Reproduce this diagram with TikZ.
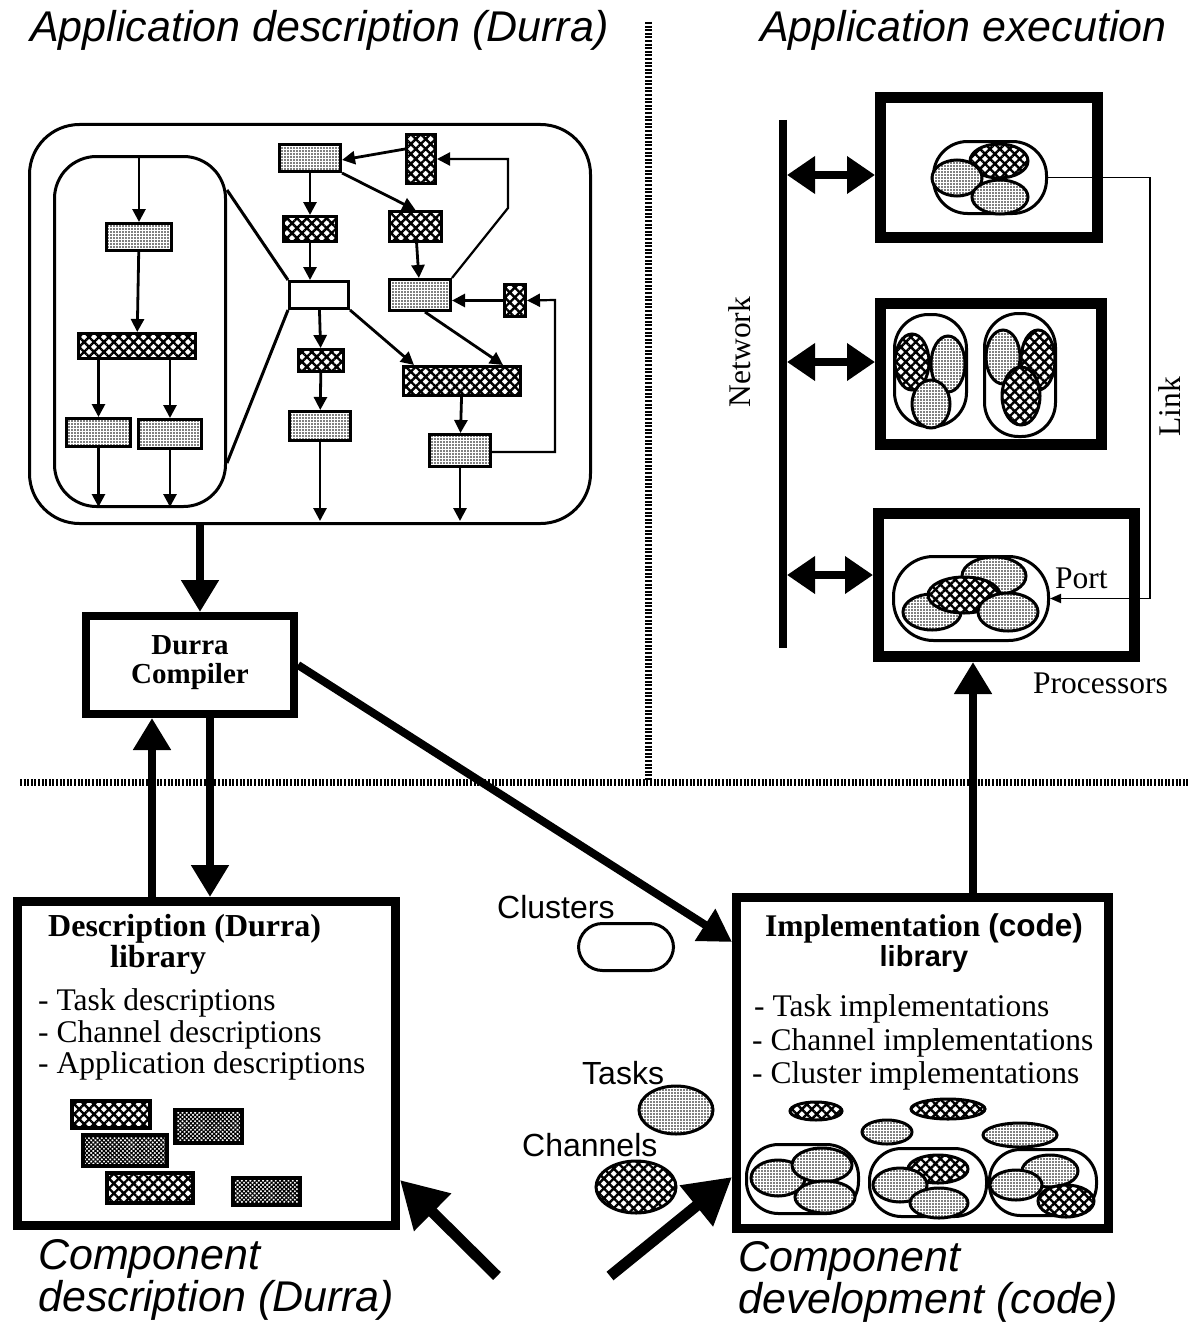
\documentclass[tikz,border=0pt]{standalone}
\usepackage{fontspec}
\setmainfont{Liberation Serif}
\setsansfont{Liberation Sans}
\usetikzlibrary{arrows.meta,patterns.meta,shapes.geometric}
\begin{document}
\begin{tikzpicture}[x=1pt,y=-1pt,
  box/.style={rectangle,inner sep=0pt,draw,line width=3pt},
  dotf/.style={preaction={fill=white},pattern={Dots[distance=3pt,radius=0.8pt]},draw,line width=3pt},
  hatf/.style={preaction={fill=white},pattern={Hatch[angle=45,distance=7pt,line width=2.4pt]},draw,line width=3pt},
  finef/.style={preaction={fill=white},pattern={Hatch[angle=45,distance=3pt,line width=1.1pt]},draw,line width=3.5pt},
  whitef/.style={fill=white,draw,line width=3pt},
  clus/.style={rectangle,inner sep=0pt,fill=white,draw,line width=3pt},
  bigbox/.style={rectangle,inner sep=0pt,draw,line width=9pt,fill=white},
  procbox/.style={rectangle,inner sep=0pt,draw,line width=11pt},
  sarr/.style={-{Triangle[length=13pt,width=13pt]},line width=2.8pt},
  bigarr/.style={-{Triangle[length=32pt,width=36pt]},line width=8pt},
  dblarr/.style={{Triangle[length=28pt,width=36pt]}-{Triangle[length=28pt,width=36pt]},line width=8pt},
  hugearr/.style={-{Triangle[length=46pt,width=50pt]},line width=11pt},
  linkarr/.style={-{Triangle[length=11pt,width=9pt]},line width=1.8pt},
  sepline/.style={line width=7pt,dash pattern=on 2pt off 1.6pt},
  title/.style={font=\sffamily\itshape\fontsize{43}{45}\selectfont,inner sep=0pt},
  lab/.style={font=\fontsize{31.5}{33}\selectfont,inner sep=0pt},
  blab/.style={font=\bfseries\fontsize{32}{34}\selectfont,inner sep=0pt},
  slab/.style={font=\sffamily\fontsize{32}{34}\selectfont,inner sep=0pt}
]
\useasboundingbox (0,0) rectangle (1188,1327);

% separators
\coordinate (v1) at (648,22);
\coordinate (v2) at (648,780);
\coordinate (h1) at (20,782);
\coordinate (h2) at (1188,782);
\draw[sepline] (v1) -- (v2);
\draw[sepline] (h1) -- (h2);

% titles
\node[title,anchor=base west] (t1) at (30,42) {Application description (Durra)};
\node[title,anchor=base west] (t2) at (760,42) {Application execution};

% application description graph
\node[rectangle,draw,line width=3pt,rounded corners=50pt,minimum width=561pt,minimum height=399pt,inner sep=0pt] (app) at (310,324) {};
\node[rectangle,draw,line width=3pt,rounded corners=42pt,minimum width=171pt,minimum height=350pt,inner sep=0pt] (cl) at (140,331.5) {};

\node[box,dotf,minimum width=65pt,minimum height=27pt] (b1) at (139,237) {};
\node[box,hatf,minimum width=117pt,minimum height=25pt] (b2) at (137,346) {};
\node[box,dotf,minimum width=64pt,minimum height=28pt] (b3) at (98.5,432.5) {};
\node[box,dotf,minimum width=63pt,minimum height=29pt] (b4) at (170,434) {};
\node[box,dotf,minimum width=61pt,minimum height=27pt] (bA) at (310,158) {};
\node[box,hatf,minimum width=29pt,minimum height=49pt] (bB) at (421,159) {};
\node[box,hatf,minimum width=53pt,minimum height=25pt] (bC) at (310,229) {};
\node[box,hatf,minimum width=52pt,minimum height=30pt] (bD) at (415.5,226.5) {};
\node[box,dotf,minimum width=61pt,minimum height=31pt] (bE) at (420,295) {};
\node[box,hatf,minimum width=21pt,minimum height=32pt] (bF) at (515,300.5) {};
\node[box,whitef,minimum width=59pt,minimum height=27pt] (bW) at (319,295) {};
\node[box,hatf,minimum width=45pt,minimum height=22pt] (bH) at (321,360.5) {};
\node[box,dotf,minimum width=61pt,minimum height=29pt] (bI) at (320,426) {};
\node[box,hatf,minimum width=117pt,minimum height=29pt] (bJ) at (462,381) {};
\node[box,dotf,minimum width=61pt,minimum height=32pt] (bG) at (460,450.5) {};

\coordinate (s0) at (139,158);
\coordinate (e1) at (98.5,507);
\coordinate (e2) at (170,507);
\coordinate (e3) at (320,521);
\coordinate (e4) at (460,521);
\coordinate (k1) at (508,208);
\coordinate (k2) at (508,159);
\coordinate (k3) at (555,452);
\coordinate (k4) at (555,300);

\draw[line width=3pt] ([yshift=141.5pt]cl.east) -- (bW.north west);
\draw[line width=3pt] ([yshift=-131.5pt]cl.east) -- (bW.south west);

\draw[sarr] (s0) -- (b1.north);
\draw[sarr] (b1) -- (b2);
\draw[sarr] (b3.north |- b2.south) -- (b3.north);
\draw[sarr] (b4.north |- b2.south) -- (b4.north);
\draw[sarr] (b3) -- (e1);
\draw[sarr] (b4) -- (e2);
\draw[sarr] ([yshift=10pt]bB.west) -- ([yshift=-2pt]bA.east);
\draw[sarr] (bA) -- (bC);
\draw[sarr] (bC) -- (bC |- bW.north);
\draw[sarr] (bA.south east) -- (bD.north);
\draw[sarr] (bD) -- (bE);
\draw[sarr,line width=2.2pt] (bE.north east) -- (k1) -- (k2) -- (bB.east);
\draw[sarr] (bF.west) -- (bF.west -| bE.east);
\draw[sarr,line width=2.2pt] (bG.east |- k3) -- (k3) -- (k4) -- (bF.east);
\draw[sarr] (bW) -- (bH);
\draw[sarr] (bH) -- (bI);
\draw[sarr] (bI) -- (e3);
\draw[sarr] (bW.south east) -- ([xshift=12pt]bJ.north west);
\draw[sarr] ([xshift=5pt]bE.south) -- ([xshift=41pt]bJ.north);
\draw[sarr] (bJ) -- (bG);
\draw[sarr] (bG) -- (e4);

% Durra compiler
\node[rectangle,inner sep=0pt,draw,line width=8pt,minimum width=208pt,minimum height=98pt] (comp) at (190,665) {};
\node[inner sep=0pt,align=center,font=\bfseries\fontsize{29}{29}\selectfont] (compt) at (190,663) {Durra\\Compiler};
\draw[bigarr] ([xshift=-110pt]app.south) -- ([xshift=10pt]comp.north);

% description library
\node[bigbox,minimum width=378pt,minimum height=324pt] (desc) at (206.5,1063.5) {};
\node[blab,anchor=base west,align=left,font=\bfseries\fontsize{32}{26}\selectfont] (dt) at (48,967) {Description (Durra)\\\hspace*{62pt}library};
\node[lab,anchor=base west] (di1) at (38,1010) {- Task descriptions};
\node[lab,anchor=base west] (di2) at (38,1042) {- Channel descriptions};
\node[lab,anchor=base west] (di3) at (38,1073) {- Application descriptions};
\draw[hatf,line width=3.5pt] (72,1101) rectangle (150,1128);
\draw[finef] (175,1110) rectangle (242,1143);
\draw[finef] (83,1135) rectangle (167,1166);
\draw[hatf,line width=3.5pt] (107,1173) rectangle (193,1203);
\draw[finef] (233,1178) rectangle (300,1205);

\draw[bigarr] ([xshift=-54.5pt]desc.north) -- ([xshift=-38pt]comp.south);
\draw[bigarr] ([xshift=20pt]comp.south) -- ([xshift=3.5pt]desc.north);

% implementation library
\node[bigbox,minimum width=372pt,minimum height=331pt] (impl) at (922.5,1063) {};
\node[inner sep=0pt,anchor=base,align=center,font=\fontsize{31.5}{30}\selectfont] (it) at (924,966) {\textbf{Implementation} {\sffamily\bfseries(code)}\\{\sffamily\bfseries\fontsize{29}{30}\selectfont library}};
\node[lab,anchor=base west] (ii1) at (754,1016) {- Task implementations};
\node[lab,anchor=base west] (ii2) at (752,1050) {- Channel implementations};
\node[lab,anchor=base west] (ii3) at (752,1083) {- Cluster implementations};
\draw[hatf] (816,1111) ellipse [x radius=26, y radius=9];
\draw[hatf] (948,1109) ellipse [x radius=37, y radius=10];
\draw[dotf] (887,1132) ellipse [x radius=25, y radius=12];
\draw[dotf] (1020,1135) ellipse [x radius=37, y radius=12];
\node[clus,rounded corners=32pt,minimum width=112pt,minimum height=69pt] (c1) at (802.5,1179) {};
\draw[dotf] (778,1178) ellipse [x radius=27, y radius=18];
\draw[dotf] (822,1165) ellipse [x radius=30, y radius=17];
\draw[dotf] (825,1197) ellipse [x radius=30, y radius=16];
\node[clus,rounded corners=32pt,minimum width=117pt,minimum height=68pt] (c2) at (928,1182.5) {};
\draw[hatf] (938,1169) ellipse [x radius=30, y radius=14];
\draw[dotf] (900,1185) ellipse [x radius=27, y radius=17];
\draw[dotf] (939,1203) ellipse [x radius=29, y radius=15];
\node[clus,rounded corners=31pt,minimum width=107pt,minimum height=66pt] (c3) at (1043,1182.5) {};
\draw[dotf] (1050,1171) ellipse [x radius=28, y radius=16];
\draw[dotf] (1016,1185) ellipse [x radius=26, y radius=15];
\draw[hatf] (1066,1201) ellipse [x radius=28, y radius=16];

% bottom titles
\node[title,anchor=base west,align=left,font=\sffamily\itshape\fontsize{43}{40}\selectfont] (t3) at (38,1311) {Component\\description (Durra)};
\node[title,anchor=base west,align=left,font=\sffamily\itshape\fontsize{43}{38}\selectfont] (t4) at (738,1313) {Component\\development (code)};

% legend
\node[slab,anchor=base west] (lc) at (497,918) {Clusters};
\node[clus,rounded corners=24pt,minimum width=95pt,minimum height=47pt] (legc) at (626,947) {};
\node[slab,anchor=base west] (lt) at (582,1084) {Tasks};
\draw[dotf] (676,1110) ellipse [x radius=37, y radius=24];
\node[slab,anchor=base west] (lch) at (522,1156) {Channels};
\draw[hatf] (636,1187) ellipse [x radius=40, y radius=26];

% compiler to implementation
\draw[bigarr] (comp.east) -- ([yshift=-49pt]impl.north west);

% bottom arrows
\coordinate (ba1) at (497,1276);
\coordinate (ba2) at (610,1276);
\draw[hugearr] (ba1) -- ([yshift=-116.5pt]desc.east);
\draw[hugearr] (ba2) -- ([yshift=-114pt]impl.west);

% application execution
\coordinate (n1) at (783,120);
\coordinate (n2) at (783,648);
\coordinate (nx) at (787,0);
\coordinate (lkx) at (1150,0);
\draw[line width=8pt] (n1) -- (n2);
\node[procbox,minimum width=217pt,minimum height=140pt] (p1) at (989,167.5) {};
\node[procbox,minimum width=221pt,minimum height=141pt] (p2) at (991,374) {};
\node[procbox,minimum width=256pt,minimum height=143pt] (p3) at (1006.5,585) {};
\draw[dblarr] ([yshift=-7.5pt]p1.west -| nx) -- ([yshift=-7.5pt]p1.west);
\draw[dblarr] ([yshift=12pt]p2.west -| nx) -- ([yshift=12pt]p2.west);
\draw[dblarr] ([yshift=10pt]p3.west -| nx) -- ([yshift=10pt]p3.west);

\node[clus,rounded corners=34pt,minimum width=113pt,minimum height=72pt] (q1) at (990,177.5) {};
\draw[hatf] (999,161) ellipse [x radius=29, y radius=17];
\draw[dotf] (957,178) ellipse [x radius=25, y radius=18];
\draw[dotf] (1000,197) ellipse [x radius=28, y radius=17];

\node[clus,rounded corners=34pt,minimum width=72pt,minimum height=112pt] (q2a) at (930.5,370.5) {};
\draw[hatf] (912,362) ellipse [x radius=17, y radius=28];
\draw[dotf] (948,364) ellipse [x radius=17, y radius=28];
\draw[dotf] (931,404) ellipse [x radius=19, y radius=24];
\node[clus,rounded corners=34pt,minimum width=71pt,minimum height=123pt] (q2b) at (1020,375) {};
\draw[dotf] (1003,357) ellipse [x radius=17, y radius=27];
\draw[hatf] (1038,360) ellipse [x radius=17, y radius=30];
\draw[hatf] (1021,396) ellipse [x radius=19, y radius=29];

\node[clus,rounded corners=40pt,minimum width=155pt,minimum height=84pt] (q3) at (971,598.5) {};
\draw[dotf] (994,576) ellipse [x radius=32, y radius=19];
\draw[dotf] (932,612) ellipse [x radius=29, y radius=18];
\draw[hatf] (964,595) ellipse [x radius=36, y radius=18];
\draw[dotf] (1008,612) ellipse [x radius=30, y radius=19];

\draw[linkarr] (q1.east) -- (q1.east -| lkx) -- (q3.east -| lkx) -- (q3.east);

\node[lab,rotate=90] (netl) at (740,352) {Network};
\node[lab,rotate=90] (linkl) at (1170,407) {Link};
\node[lab,anchor=base west] (portl) at (1055,588) {Port};
\node[lab,anchor=base west] (procl) at (1033,693) {Processors};

\draw[bigarr] ([xshift=50.5pt]impl.north) -- ([xshift=-33.5pt]p3.south);
\end{tikzpicture}
\end{document}
